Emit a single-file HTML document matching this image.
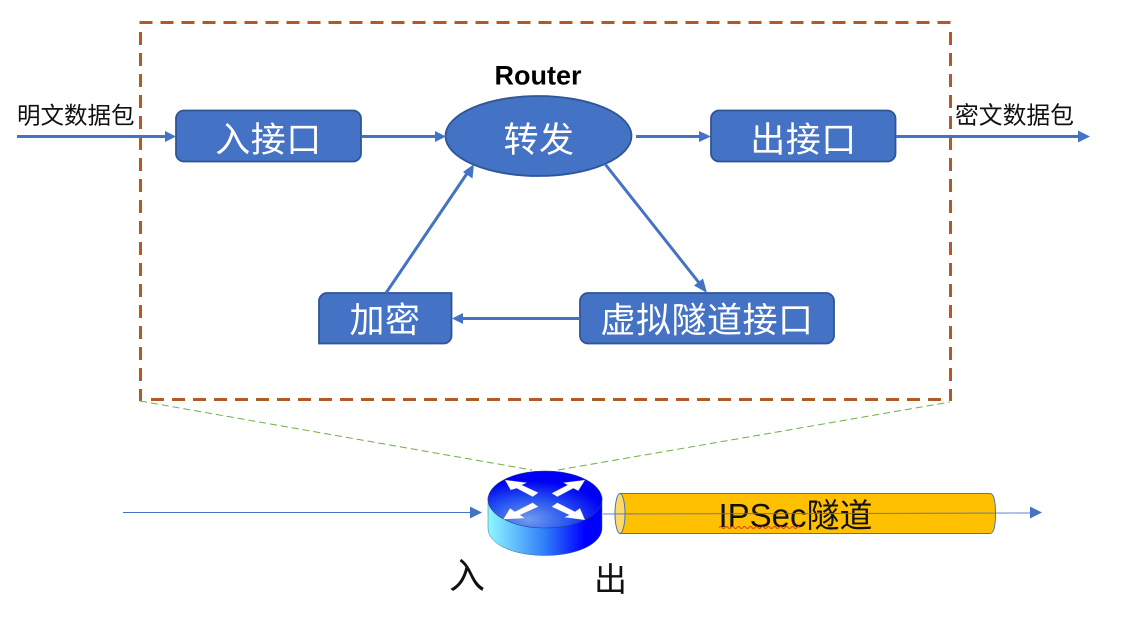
<!DOCTYPE html>
<html lang="zh">
<head>
<meta charset="utf-8">
<style>
html,body{margin:0;padding:0;background:#fff;width:1132px;height:617px;overflow:hidden}
svg{display:block}
text{font-family:"Liberation Sans","Noto Sans CJK SC",sans-serif}
</style>
</head>
<body>
<svg width="1132" height="617" viewBox="0 0 1132 617" xmlns="http://www.w3.org/2000/svg">
<defs>
<linearGradient id="side" x1="0" x2="1" y1="0" y2="0">
<stop offset="0" stop-color="#8ff8ff"/>
<stop offset="0.5" stop-color="#2f7dfa"/>
<stop offset="0.85" stop-color="#0000ff"/>
</linearGradient>
<radialGradient id="top" cx="0.36" cy="0.85" r="0.68">
<stop offset="0" stop-color="#6f9cf0"/>
<stop offset="0.55" stop-color="#2450f0"/>
<stop offset="1" stop-color="#0000f5"/>
</radialGradient>
</defs>

<!-- dashed frame -->
<g fill="none" stroke="#b15a26" stroke-width="3" stroke-dasharray="13 8">
<line x1="139.500" y1="22.500" x2="951" y2="22.500"/>
<line x1="950.500" y1="32" x2="950.500" y2="401"/>
<line x1="151" y1="399.500" x2="951" y2="399.500"/>
<line x1="140.500" y1="32" x2="140.500" y2="401"/>
</g>

<!-- green dashed -->
<path d="M140 401 L532 470 M558 470 L950 402" fill="none" stroke="#70ad47" stroke-width="1" stroke-dasharray="7 4"/>

<!-- boxes -->
<g fill="#4472c4" stroke="#2f5597" stroke-width="1.800">
<rect x="176" y="110.500" width="185" height="51" rx="8"/>
<rect x="711" y="110.500" width="184.500" height="51" rx="8"/>
<rect x="580" y="293" width="254" height="50.500" rx="8"/>
<path d="M327 293 H451.500 V335 a8 8 0 0 1 -8 8.500 H319 V301 a8 8 0 0 1 8 -8 Z"/>
<ellipse cx="538.500" cy="136" rx="93" ry="40"/>
</g>

<!-- thick connectors -->
<g stroke="#4472c4" stroke-width="3" fill="none">
<line x1="17" y1="136.500" x2="167" y2="136.500"/>
<line x1="362" y1="136.500" x2="436" y2="136.500"/>
<line x1="636" y1="136.500" x2="700" y2="136.500"/>
<line x1="896" y1="136.500" x2="1079" y2="136.500"/>
<line x1="580" y1="318.500" x2="462" y2="318.500"/>
<line x1="386" y1="293" x2="468" y2="172"/>
<line x1="605" y1="164" x2="700" y2="284"/>
</g>
<g fill="#4472c4">
<polygon points="176,136.500 165,131 165,142"/>
<polygon points="446,136.500 435,131 435,142"/>
<polygon points="711,136.500 699,131 699,142"/>
<polygon points="1090,136.500 1078,130.500 1078,142.500"/>
<polygon points="452,318.500 463,313 463,324"/>
<polygon points="474,164 463,172 472.500,178.500"/>
<polygon points="707,293 694,285.500 703,278.500"/>
</g>

<!-- box text -->
<g fill="#fff" font-size="35" text-anchor="middle" letter-spacing="0.500">
<text x="268.500" y="152">入接口</text>
<text x="539" y="152">转发</text>
<text x="803.500" y="152">出接口</text>
<text x="385" y="332.500">加密</text>
<text x="707" y="332.500">虚拟隧道接口</text>
</g>
<text x="538" y="84.500" font-size="27" font-weight="bold" text-anchor="middle" fill="#000">Router</text>
<text x="17" y="123.500" font-size="23.500" fill="#111">明文数据包</text>
<text x="955" y="123.500" font-size="23.800" fill="#111">密文数据包</text>

<!-- lower line left -->
<line x1="123" y1="512.500" x2="471" y2="512.500" stroke="#4472c4" stroke-width="1"/>
<polygon points="482,512.500 470,506.500 470,518.500" fill="#4472c4"/>

<!-- cylinder -->
<path d="M620 493.500 H990 Q995.500 493.500 995.500 513.500 Q995.500 533.500 990 533.500 H620 Z" fill="#ffc000" stroke="#4472c4" stroke-width="1"/>
<ellipse cx="620" cy="513.500" rx="5" ry="20" fill="#ffd966" stroke="#4472c4" stroke-width="1"/>

<!-- router -->
<path d="M488 497 V528 C488 544 513 555.500 545 555.500 C577 555.500 602 544 602 528 V497 Z" fill="url(#side)" stroke="#3b6a80" stroke-width="0.500"/>
<ellipse cx="545" cy="499.500" rx="57" ry="28.500" fill="url(#top)" stroke="#2a4080" stroke-width="0.600"/>
<g fill="#fff" stroke="#8a94b5" stroke-width="0.300">
<polygon points="505,480 526.700,482.700 521.700,485 538.300,492.700 532.700,496.700 516.700,488.300 510.700,490"/>
<polygon points="585,480 563.300,482.700 567.700,485 551.700,493.300 557.300,496.700 573.300,488.300 578.300,490.700"/>
<polygon points="503.300,519.300 510,508.300 515,511.700 532.700,502.700 538.300,506.700 520,515 525,518.300"/>
<polygon points="585,520 564.300,517.300 569.300,515 551.700,506.700 557.300,502.700 575,511.700 580,508.300"/>
</g>

<!-- lower line right + text -->
<text x="795.500" y="527" font-size="33" text-anchor="middle" fill="#111">IPSec隧道</text>
<line x1="603" y1="514" x2="1031" y2="513" stroke="#4472c4" stroke-width="1" opacity="0.85"/>
<polygon points="1042,512.500 1030,506.500 1030,518.500" fill="#4472c4"/>
<path d="M719 527.500 q1.500 -2 3 0 t3 0 t3 0 t3 0 t3 0 t3 0 t3 0 t3 0 t3 0 t3 0 t3 0 t3 0 t3 0 t3 0 t3 0 t3 0 t3 0 t3 0 t3 0 t3 0 t3 0 t3 0 t3 0 t3 0 t3 0 t3 0 t3 0" fill="none" stroke="#e0341c" stroke-width="1"/>

<text x="449" y="588" font-size="36" fill="#111">入</text>
<text x="594" y="591" font-size="33" fill="#111">出</text>
</svg>
</body>
</html>
